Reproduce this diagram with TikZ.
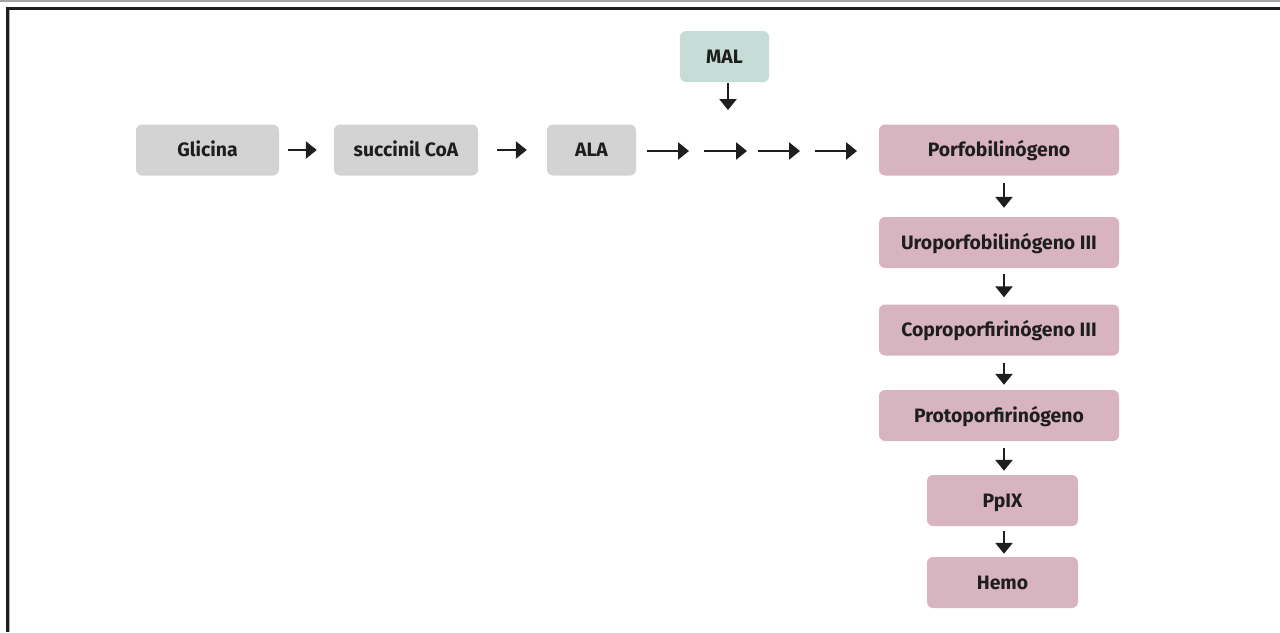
\documentclass[tikz,border=0pt]{standalone}
\usepackage{fontspec}
\setmainfont{Fira Sans}
\usetikzlibrary{arrows.meta}
\definecolor{boxgray}{HTML}{D3D3D3}
\definecolor{boxgreen}{HTML}{C5DDD6}
\definecolor{boxpink}{HTML}{D8B4C1}
\definecolor{ink}{HTML}{1E1E1E}
\begin{document}
\begin{tikzpicture}[x=1pt,y=-1pt,
  box/.style={rounded corners=6pt, inner sep=0pt, minimum height=51pt, text=ink,
    text height=13.4pt, text depth=0pt,
    font=\fontsize{19.4}{22}\selectfont\bfseries},
  gbox/.style={box, fill=boxgray},
  mbox/.style={box, fill=boxgreen},
  pbox/.style={box, fill=boxpink},
  arr/.style={draw=ink, line width=2.6pt, -{Triangle[length=11pt,width=17pt]}}]
\useasboundingbox (0,0) rectangle (1280,632);
% frame
\draw[line width=1.2pt, draw=black!35] (0,1) -- (1280,1);
\draw[line width=2.2pt, draw=ink] (1280,8.5) -- (7.5,8.5) -- (7.5,632);
\draw[line width=0.8pt, draw=black!30] (9.2,9.5) -- (9.2,632);
% nodes
\node[gbox, minimum width=143pt] (gli) at (207.5,150) {Glicina};
\node[gbox, minimum width=144pt] (suc) at (406,150) {succinil CoA};
\node[gbox, minimum width=89pt] (ala) at (591.5,150) {ALA};
\node[mbox, minimum width=89pt] (mal) at (724.5,56.5) {MAL};
\node[pbox, minimum width=240pt] (por) at (999,150) {Porfobilinógeno};
\node[pbox, minimum width=240pt] (uro) at (999,242.5) {Uroporfobilinógeno III};
\node[pbox, minimum width=240pt] (cop) at (999,330) {Coproporfirinógeno III};
\node[pbox, minimum width=240pt] (pro) at (999,415.5) {Protoporfirinógeno};
\node[pbox, minimum width=151pt] (ppi) at (1002.5,500.5) {PpIX};
\node[pbox, minimum width=151pt] (hem) at (1002.5,582.5) {Hemo};
% free arrow ends along ALA -> Porfobilinogeno
\coordinate (a1) at (647,151); \coordinate (b1) at (689,151);
\coordinate (a2) at (704,151); \coordinate (b2) at (747,151);
\coordinate (a3) at (758,151); \coordinate (b3) at (800,151);
\coordinate (a4) at (815,151); \coordinate (b4) at (857,151);
\coordinate (m2) at (728,110);
% connectors
\draw[arr, shorten <=9pt, shorten >=17pt] (gli.east) -- (suc.west);
\draw[arr, shorten <=19pt, shorten >=20pt] (suc.east) -- (ala.west);
\draw[arr] (a1) -- (b1);
\draw[arr] (a2) -- (b2);
\draw[arr] (a3) -- (b3);
\draw[arr] (a4) -- (b4);
\draw[arr, shorten <=1pt] (mal.south -| m2) -- (m2);
\draw[arr, shorten <=7pt, shorten >=9pt] ([xshift=5pt]por.south) -- ([xshift=5pt]uro.north);
\draw[arr, shorten <=6pt, shorten >=7pt] ([xshift=5pt]uro.south) -- ([xshift=5pt]cop.north);
\draw[arr, shorten <=7pt, shorten >=5pt] ([xshift=5pt]cop.south) -- ([xshift=5pt]pro.north);
\draw[arr, shorten <=7pt, shorten >=4pt] ([xshift=5pt]pro.south) -- ([xshift=1.5pt]ppi.north);
\draw[arr, shorten <=5pt, shorten >=3pt] ([xshift=1.5pt]ppi.south) -- ([xshift=1.5pt]hem.north);
\end{tikzpicture}
\end{document}
